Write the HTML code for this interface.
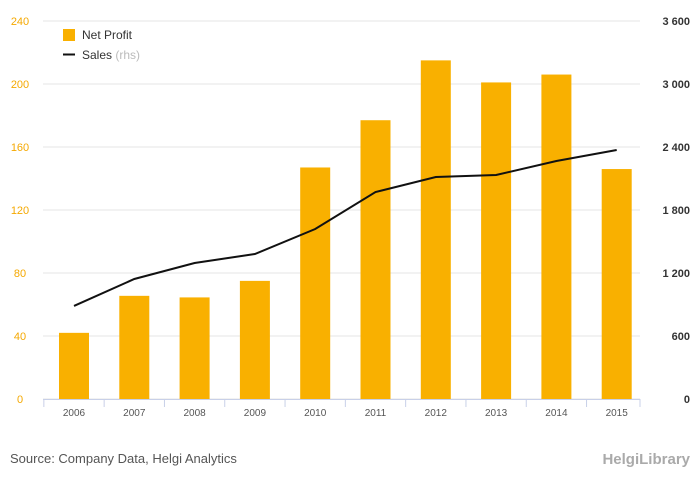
<!DOCTYPE html>
<html><head><meta charset="utf-8"><style>
body{margin:0;background:#fff;font-family:"Liberation Sans",sans-serif;}
</style></head><body>
<svg id="c" width="700" height="483" xmlns="http://www.w3.org/2000/svg"></svg>
<script>
const years=['2006','2007','2008','2009','2010','2011','2012','2013','2014','2015'];
const profit=[42,65.5,64.5,75,147,177,215,201,206,146];
const sales=[886,1143,1295,1381,1619,1971,2114,2133,2267,2371];
const leftTicks=[0,40,80,120,160,200,240];
const rightTicks=['0','600','1 200','1 800','2 400','3 000','3 600'];
const rightVals=[0,600,1200,1800,2400,3000,3600];
const svg=document.getElementById('c');const NS='http://www.w3.org/2000/svg';
function mk(t,a,txt){const e=document.createElementNS(NS,t);for(const k in a)e.setAttribute(k,a[k]);if(txt!==undefined)e.textContent=txt;svg.appendChild(e);return e;}
const x0=43,x1=640,yb=399,yt=21;
const yL=v=>yb-(v/240)*(yb-yt);
const yR=v=>yb-(v/3600)*(yb-yt);
const step=60.3;
const xc=i=>74+step*i;
leftTicks.forEach((v,i)=>{
 const g=mk('line',{x1:x0,x2:x1,y1:yL(v),y2:yL(v),stroke:'#e6e6e6','stroke-width':1});
 
 const t=mk('text',{x:20,y:yL(v)+4,'text-anchor':'middle','font-size':11,fill:'#f5a800'},v);
 
 const r=mk('text',{x:690,y:yR(rightVals[i])+4,'text-anchor':'end','font-size':11,fill:'#333','font-weight':'bold'},rightTicks[i]);
 
});
const ax=mk('line',{x1:x0,x2:x1,y1:yb+0.5,y2:yb+0.5,stroke:'#c8d0e8'});

years.forEach((y,i)=>{
 const tk=mk('line',{x1:xc(i)-step/2,x2:xc(i)-step/2,y1:yb,y2:yb+8,stroke:'#c8d0e8'});
 
 const b=mk('rect',{x:xc(i)-15,y:yL(profit[i]),width:30,height:yb-yL(profit[i]),fill:'#f9b000'});
 
 const t=mk('text',{x:xc(i),y:416,'text-anchor':'middle','font-size':10,fill:'#555'},y);
 
});
const tk2=mk('line',{x1:x1,x2:x1,y1:yb,y2:yb+8,stroke:'#c8d0e8'});

const pl=mk('polyline',{points:sales.map((v,i)=>xc(i)+','+yR(v)).join(' '),fill:'none',stroke:'#111','stroke-width':2});

const l1=mk('rect',{x:63,y:29,width:12,height:12,fill:'#f9b000'});

const l1t=mk('text',{x:82,y:39,'font-size':12,fill:'#333'},'Net Profit');

const l2=mk('line',{x1:63,x2:75,y1:54.5,y2:54.5,stroke:'#111','stroke-width':2});

const l2t=mk('text',{x:82,y:59,'font-size':12,fill:'#333'},'Sales ');

const ts=document.createElementNS(NS,'tspan');ts.setAttribute('fill','#bbb');ts.textContent='(rhs)';l2t.appendChild(ts);
const src=mk('text',{x:10,y:463,'font-size':13,fill:'#555'},'Source: Company Data, Helgi Analytics');

const lg=mk('text',{x:690,y:464,'text-anchor':'end','font-size':15,fill:'#aaa','font-weight':'bold'},'HelgiLibrary');

</script>
</body></html>
